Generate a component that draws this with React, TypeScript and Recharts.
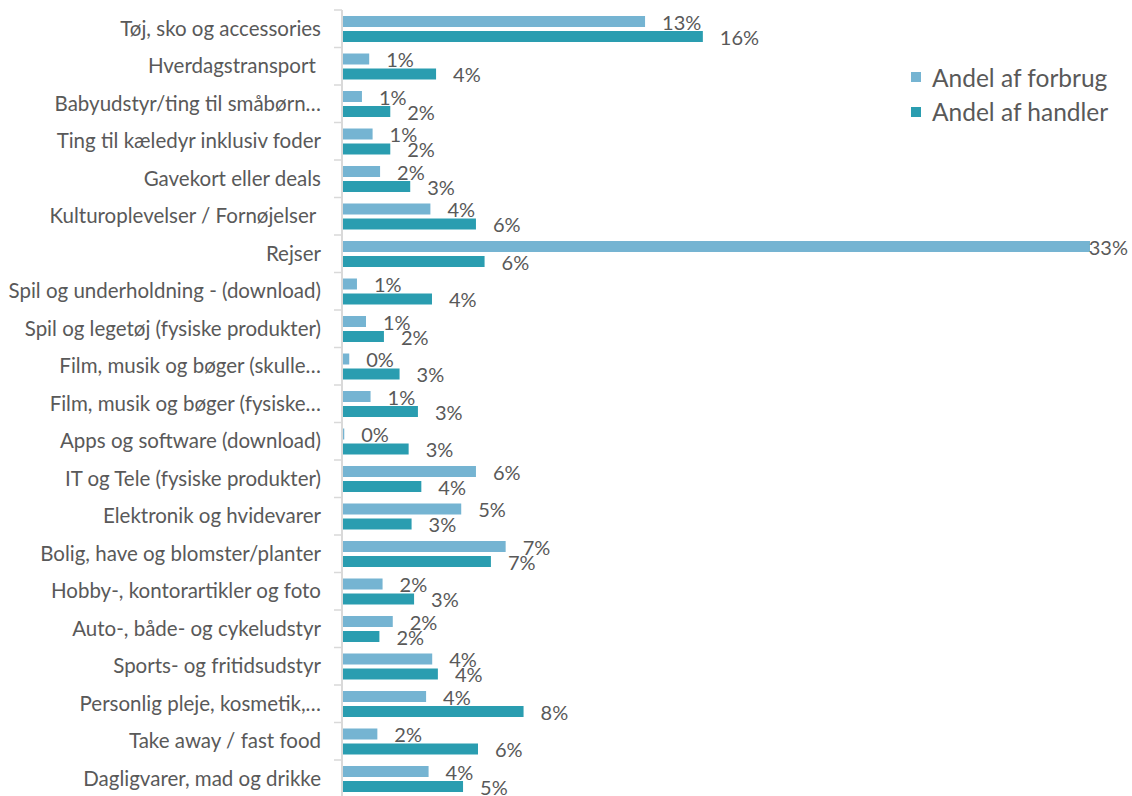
import { Bar, BarChart, LabelList, Legend, XAxis, YAxis } from "recharts";

const categories = [
  "Tøj, sko og accessories",
  "Hverdagstransport\u00a0",
  "Babyudstyr/ting til småbørn…",
  "Ting til kæledyr inklusiv foder",
  "Gavekort eller deals",
  "Kulturoplevelser / Fornøjelser\u00a0",
  "Rejser",
  "Spil og underholdning - (download)",
  "Spil og legetøj (fysiske produkter)",
  "Film, musik og bøger (skulle…",
  "Film, musik og bøger (fysiske…",
  "Apps og software (download)",
  "IT og Tele (fysiske produkter)",
  "Elektronik og hvidevarer",
  "Bolig, have og blomster/planter",
  "Hobby-, kontorartikler og foto",
  "Auto-, både- og cykeludstyr",
  "Sports- og fritidsudstyr",
  "Personlig pleje, kosmetik,…",
  "Take away / fast food",
  "Dagligvarer, mad og drikke",
];

// andel af forbrug (%)
const forbrug = [
  13.37, 1.2, 0.88, 1.35, 1.68, 3.9, 33.0, 0.66, 1.06, 0.32, 1.26, 0.1, 5.91, 5.26,
  7.22, 1.79, 2.24, 3.98, 3.71, 1.56, 3.82,
];

// andel af handler (%)
const handler = [
  15.92, 4.15, 2.13, 2.13, 3.01, 5.91, 6.29, 3.97, 1.85, 2.54, 3.35, 2.94, 3.5, 3.07,
  6.57, 3.18, 1.65, 4.23, 8.01, 6.0, 5.34,
];

const seriesNames = ["Andel af forbrug", "Andel af handler"];
const seriesColors = ["#75b4d2", "#2a9db0"];

const FONT = "Lato, 'Open Sans', sans-serif";
const TEXT = "#595959";
const GRID = "#d9d9d9";

const CHART_W = 1132;
const CHART_H = 800;
const MARGIN = { top: 10, right: 42, bottom: 2.5, left: 0 };
const BAND = (CHART_H - MARGIN.top - MARGIN.bottom) / categories.length;

const data = categories.map((name, i) => ({
  name,
  forbrug: forbrug[i],
  handler: handler[i],
}));

function CategoryTick(props: any) {
  const { x, y, payload } = props;
  return (
    <g>
      <line x1={x - 8} x2={x} y1={y - BAND / 2} y2={y - BAND / 2} stroke={GRID} strokeWidth={1.5} />
      <text
        x={x - 21}
        y={y}
        dy={7}
        textAnchor="end"
        fill={TEXT}
        fontSize={20.5}
        fontFamily={FONT}
      >
        {payload.value}
      </text>
    </g>
  );
}

function ValueLabel(props: any) {
  const { x, y, width, height, value } = props;
  let lx = x + width + 17;
  let anchor: "start" | "end" = "start";
  // keep labels that would run past the edge inside the chart, like Excel does
  if (lx + 40 > CHART_W) {
    lx = CHART_W - 4;
    anchor = "end";
  }
  return (
    <text
      x={lx}
      y={y + height / 2}
      dy={8}
      textAnchor={anchor}
      fill={TEXT}
      fontSize={20}
      fontFamily={FONT}
    >
      {`${Math.round(value)}%`}
    </text>
  );
}

function LegendContent(props: any) {
  const { payload } = props;
  return (
    <div style={{ fontFamily: FONT, color: TEXT, fontSize: 24.5 }}>
      {(payload ?? []).map((entry: any) => (
        <div key={entry.value} style={{ display: "flex", alignItems: "center", height: 34.5 }}>
          <span
            style={{
              display: "inline-block",
              width: 10,
              height: 10,
              background: entry.color,
              marginRight: 11,
            }}
          />
          <span>{entry.value}</span>
        </div>
      ))}
    </div>
  );
}

export default function App() {
  return (
    <div
      style={{
        position: "absolute",
        left: 0,
        top: 0,
        width: CHART_W,
        height: 796,
        overflow: "hidden",
        background: "#fff",
      }}
    >
      <BarChart
        width={CHART_W}
        height={CHART_H}
        data={data}
        layout="vertical"
        margin={MARGIN}
        barSize={11}
        barGap={4}
      >
        <XAxis type="number" domain={[0, 33]} hide />
        <YAxis
          type="category"
          dataKey="name"
          width={342}
          tickLine={false}
          tickSize={0}
          tickMargin={0}
          axisLine={{ stroke: GRID, strokeWidth: 2 }}
          tick={<CategoryTick />}
          interval={0}
        />
        <Legend
          layout="vertical"
          verticalAlign="middle"
          align="center"
          content={<LegendContent />}
          wrapperStyle={{ left: 911, top: 60, width: 220 }}
        />
        <Bar dataKey="forbrug" name={seriesNames[0]} fill={seriesColors[0]} isAnimationActive={false}>
          <LabelList dataKey="forbrug" content={<ValueLabel />} />
        </Bar>
        <Bar dataKey="handler" name={seriesNames[1]} fill={seriesColors[1]} isAnimationActive={false}>
          <LabelList dataKey="handler" content={<ValueLabel />} />
        </Bar>
      </BarChart>
    </div>
  );
}
